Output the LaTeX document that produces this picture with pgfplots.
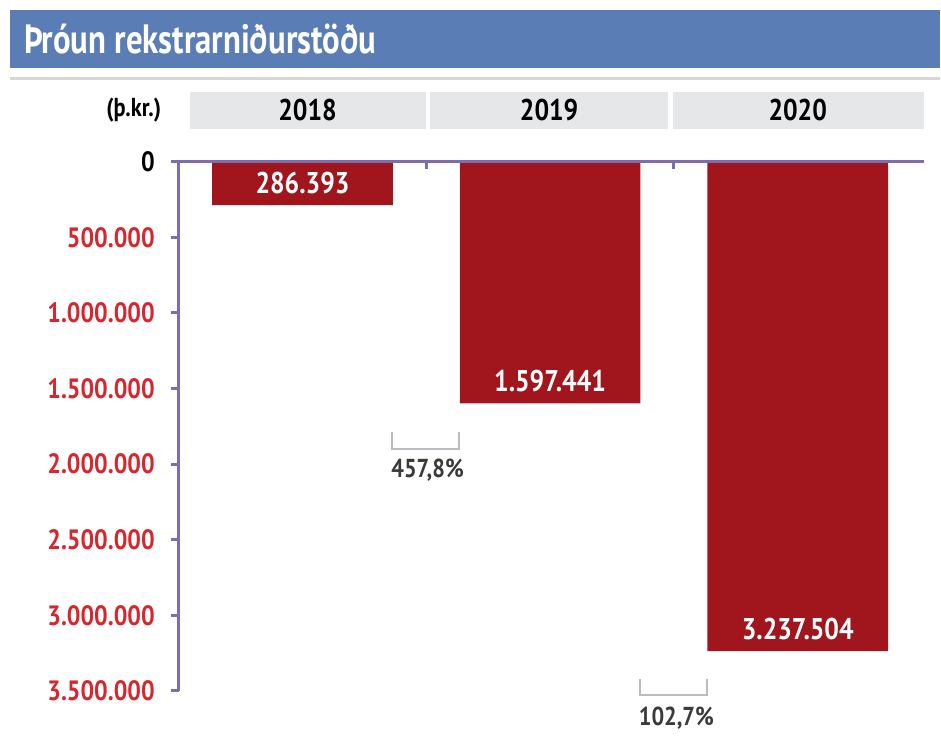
\documentclass[border=0pt]{standalone}
\usepackage{pgfplots}
\pgfplotsset{compat=1.18}
\usepackage{fontspec}
\setmainfont{PT Sans}[FakeStretch=0.86]
\newfontfamily\titlefont{PT Sans}[FakeStretch=0.8]

\definecolor{titleblue}{RGB}{91,125,182}
\definecolor{headgrey}{RGB}{230,231,232}
\definecolor{rulegrey}{RGB}{214,214,216}
\definecolor{barred}{RGB}{160,22,28}
\definecolor{labelred}{RGB}{214,38,46}
\definecolor{axispurple}{RGB}{126,107,176}
\definecolor{brackgrey}{RGB}{185,189,193}
\definecolor{pctgrey}{RGB}{58,58,58}

\begin{document}
\begin{tikzpicture}
% page furniture, in pixels of the reference
\begin{scope}[x=0.5pt,y=-0.5pt]
  \path (0,0) rectangle (941,747);
  \fill[titleblue] (10,10) rectangle (941,68);
  \node[anchor=west, text=white, font=\titlefont\bfseries\fontsize{20.5}{20.5}\selectfont] at (17,39) {Þróun rekstrarniðurstöðu};
  \draw[rulegrey, line width=1.5pt] (10,79) -- (941,79);
  \node[font=\bfseries\fontsize{13}{13}\selectfont] at (134,110) {(þ.kr.)};
  \fill[headgrey] (190,92) rectangle (427,129);
  \fill[headgrey] (431,92) rectangle (669,129);
  \fill[headgrey] (674,92) rectangle (925,129);
  \node[font=\bfseries\fontsize{15}{15}\selectfont] at (308,110) {2018};
  \node[font=\bfseries\fontsize{15}{15}\selectfont] at (550,110) {2019};
  \node[font=\bfseries\fontsize{15}{15}\selectfont] at (799,110) {2020};
\end{scope}

\begin{axis}[
    at={(89.5pt,-81pt)}, anchor=north west,
    scale only axis,
    width=372pt, height=265pt,
    xmin=-0.5, xmax=2.5,
    ymin=0, ymax=3500000,
    y dir=reverse,
    clip=false,
    axis line style={draw=none},
    xtick=\empty,
    ytick={0,500000,1000000,1500000,2000000,2500000,3000000,3500000},
    yticklabels={\textcolor{black}{0},500.000,1.000.000,1.500.000,2.000.000,2.500.000,3.000.000,3.500.000},
    ytick pos=left,
    tick align=outside,
    major tick length=4pt,
    ytick style={axispurple, line width=1.5pt},
    yticklabel style={text=labelred, font=\bfseries\fontsize{14}{14}\selectfont, xshift=-4.5pt},
    scaled y ticks=false,
  ]
  \addplot[ybar, fill=barred, draw=none, bar width=90.5pt,
    nodes near coords, point meta=explicit symbolic,
    nodes near coords style={anchor=center, yshift=11pt, text=white,
      font=\bfseries\fontsize{15}{15}\selectfont}]
    coordinates {(0,286393) [286.393] (1,1597441) [1.597.441] (2,3237504) [3.237.504]};

  % axis spines
  \draw[axispurple, line width=1.5pt] (axis cs:-0.5,3500000) -- (axis cs:-0.5,0) -- (axis cs:2.51,0);
  \draw[axispurple, line width=1.5pt] (axis cs:0.5,0) -- ([yshift=-3.5pt]axis cs:0.5,0);
  \draw[axispurple, line width=1.5pt] (axis cs:1.5,0) -- ([yshift=-3.5pt]axis cs:1.5,0);

  % growth brackets
  \draw[brackgrey, line width=1pt] (axis cs:0.363,1790000) -- (axis cs:0.363,1900000) -- (axis cs:0.633,1900000) -- (axis cs:0.633,1790000);
  \node[text=pctgrey, font=\bfseries\fontsize{13}{13}\selectfont] at (axis cs:0.505,2040000) {457,8\%};
  \draw[brackgrey, line width=1pt] (axis cs:1.363,3420000) -- (axis cs:1.363,3530000) -- (axis cs:1.633,3530000) -- (axis cs:1.633,3420000);
  \node[text=pctgrey, font=\bfseries\fontsize{13}{13}\selectfont] at (axis cs:1.51,3680000) {102,7\%};
\end{axis}
\end{tikzpicture}
\end{document}
